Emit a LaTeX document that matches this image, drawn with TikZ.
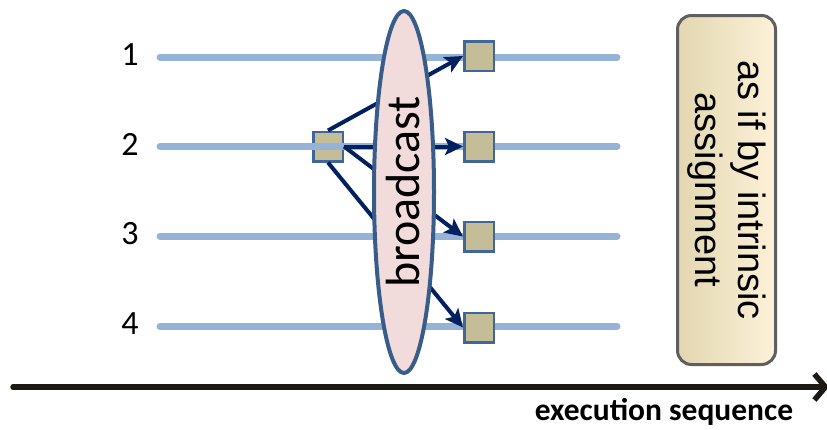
\documentclass[tikz,border=0pt]{standalone}
\usepackage{fontspec}
\setmainfont{Carlito}
\newfontfamily\boxfont{Liberation Sans}
\usetikzlibrary{shapes.geometric,arrows.meta}

\definecolor{laneblue}{HTML}{95B3D7}
\definecolor{navy}{HTML}{002060}
\definecolor{sqfill}{HTML}{C4BD97}
\definecolor{sqedge}{HTML}{41669A}
\definecolor{ovalfill}{HTML}{F2DCDB}
\definecolor{ovaledge}{HTML}{385D8A}
\definecolor{boxedge}{HTML}{5F5F5F}
\definecolor{boxleft}{HTML}{E2D7B0}
\definecolor{boxright}{HTML}{FDF1D9}
\definecolor{axisdark}{HTML}{1C1A12}

\begin{document}
\begin{tikzpicture}[x=1pt,y=-1pt,
  lane/.style={laneblue, line width=7pt, line cap=round},
  cell/.style={draw=sqedge, fill=sqfill, line width=2.5pt, minimum size=29.5pt, inner sep=0pt},
  send/.style={navy, line width=4pt, -{Stealth[length=18pt,width=17pt,inset=4pt]}},
  rowlabel/.style={font=\fontsize{34}{34}\selectfont, inner sep=0pt},
]
\useasboundingbox (0,0) rectangle (827,429);

% sending cell on process 2 (sits under its lane)
\node[cell] (src) at (328,146.5) {};

% process lanes
\coordinate (l1) at (160,57);    \coordinate (r1) at (617,57);
\coordinate (l2) at (160,146.5); \coordinate (r2) at (617,146.5);
\coordinate (l3) at (160,236);   \coordinate (r3) at (617,236);
\coordinate (l4) at (160,326.5); \coordinate (r4) at (617,326.5);
\draw[lane] (l1) -- (r1);
\draw[lane] (l2) -- (r2);
\draw[lane] (l3) -- (r3);
\draw[lane] (l4) -- (r4);

% process numbers
\node[rowlabel] (n1) at (130,55) {1};
\node[rowlabel] (n2) at (130,144.5) {2};
\node[rowlabel] (n3) at (130,234) {3};
\node[rowlabel] (n4) at (130,324) {4};

% receiving cells (positions only; drawn again after the oval)
\path (479,56)    coordinate (p1)
      (479,146.5) coordinate (p2)
      (479,236.5) coordinate (p3)
      (479,327.5) coordinate (p4);
\path (p1) node[cell] (t1) {} (p2) node[cell] (t2) {}
      (p3) node[cell] (t3) {} (p4) node[cell] (t4) {};

% messages
\draw[send] (src.north) -- (t1.west);
\draw[send] (src.east) -- (t2.west);
\draw[send] (src.east) -- (t3.west);
\draw[send] (src.south) -- (t4.west);

% broadcast oval
\node[ellipse, draw=ovaledge, fill=ovalfill, line width=4pt,
      minimum width=60pt, minimum height=362pt, inner sep=0pt] (bc) at (404,192) {};
\node[rotate=90, inner sep=0pt, font=\fontsize{48}{48}\selectfont] (bclabel) at (403,192) {broadcast};

% receiving cells on top of the messages' tips
\path (p1) node[cell] {} (p2) node[cell] {} (p3) node[cell] {} (p4) node[cell] {};

% note box
\node[draw=boxedge, line width=3pt, rounded corners=14pt,
      left color=boxleft, right color=boxright,
      minimum width=98pt, minimum height=349pt, inner sep=0pt] (box) at (726.5,190) {};
\node[rotate=-90, align=center, inner sep=0pt,
      font=\boxfont\fontsize{38}{43}\selectfont] (boxtext) at (box.center) {as if by intrinsic\\assignment};

% time axis
\coordinate (a0) at (13,387);
\coordinate (a1) at (829,387);
\draw[axisdark, line width=5.5pt, line cap=round,
      -{Straight Barb[length=11pt,width=26pt]}] (a0) -- (a1);
\node[anchor=base, inner sep=0pt, font=\bfseries\fontsize{31.5}{31.5}\selectfont] (xlab) at (664,420) {execution sequence};
\end{tikzpicture}
\end{document}
